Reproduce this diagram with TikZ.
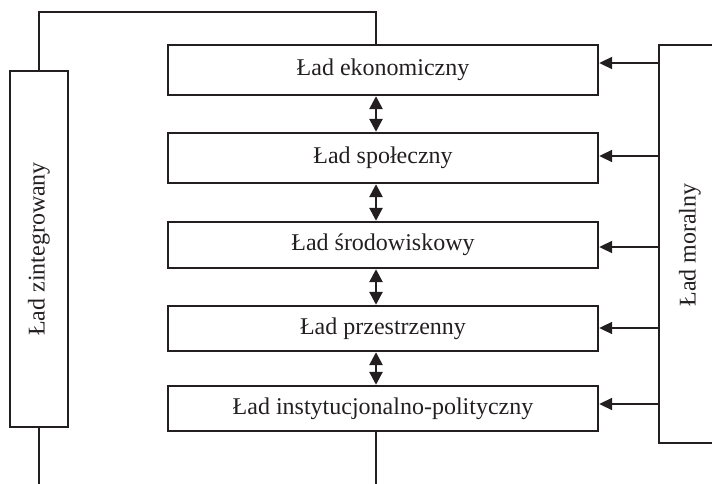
\documentclass[tikz,border=0pt]{standalone}
\usepackage{fontspec}
\setmainfont{Liberation Serif}
\usetikzlibrary{arrows.meta}
\definecolor{ink}{HTML}{231F20}
\begin{document}
\begin{tikzpicture}[x=1pt,y=-1pt,
  line/.style={draw=ink,line width=1.4pt},
  ladbox/.style={line,inner sep=0pt,minimum width=430pt,anchor=center,
    font=\fontsize{24}{28}\selectfont,text=ink},
  dbl/.style={draw=ink,line width=2.6pt,{Triangle[length=13pt,width=13pt]}-{Triangle[length=13pt,width=13pt]},shorten <=0.5pt,shorten >=0.5pt},
  inarrow/.style={draw=ink,line width=2pt,-{Triangle[length=13pt,width=12pt]},shorten >=0.5pt}]
\useasboundingbox (0,0) rectangle (712,484);
% main boxes
\node[ladbox,minimum height=50pt] (b1) at (383,70) {Ład ekonomiczny};
\node[ladbox,minimum height=50pt] (b2) at (383,158) {Ład społeczny};
\node[ladbox,minimum height=46pt] (b3) at (383,245) {Ład środowiskowy};
\node[ladbox,minimum height=45pt] (b4) at (383,328.5) {Ład przestrzenny};
\node[ladbox,minimum height=45pt] (b5) at (383,408.5) {Ład instytucjonalno-polityczny};
% integrated box
\node[line,inner sep=0pt,minimum width=356pt,minimum height=58pt,rotate=90,
  font=\fontsize{24}{28}\selectfont,text=ink] (zint) at (39,249) {Ład zintegrowany};
% moral box (open to the right)
\coordinate (mtl) at (659,45);
\coordinate (mbl) at (659,443);
\draw[line] (720,45) -- (mtl) -- (mbl) -- (720,443);
\node[rotate=90,font=\fontsize{24}{28}\selectfont,text=ink,inner sep=0pt] (moral) at (690,245) {Ład moralny};
% feedback loop
\coordinate (topx) at (376,12);
\coordinate (zb) at (39,490);
\draw[line] (zint.east) |- (topx) -- (topx |- b1.north);
\draw[line] (zint.west) -- (zint.west |- zb);
\draw[line] (topx |- b5.south) -- (topx |- zb);
% double arrows
\draw[dbl] (topx |- b1.south) -- (topx |- b2.north);
\draw[dbl] (topx |- b2.south) -- (topx |- b3.north);
\draw[dbl] (topx |- b3.south) -- (topx |- b4.north);
\draw[dbl] (topx |- b4.south) -- (topx |- b5.north);
% arrows from moral order
\coordinate (m1) at (659,63);
\coordinate (m2) at (659,156);
\coordinate (m3) at (659,247);
\coordinate (m4) at (659,328);
\coordinate (m5) at (659,404);
\draw[inarrow] (m1) -- (b1.east |- m1);
\draw[inarrow] (m2) -- (b2.east |- m2);
\draw[inarrow] (m3) -- (b3.east |- m3);
\draw[inarrow] (m4) -- (b4.east |- m4);
\draw[inarrow] (m5) -- (b5.east |- m5);
\end{tikzpicture}
\end{document}
